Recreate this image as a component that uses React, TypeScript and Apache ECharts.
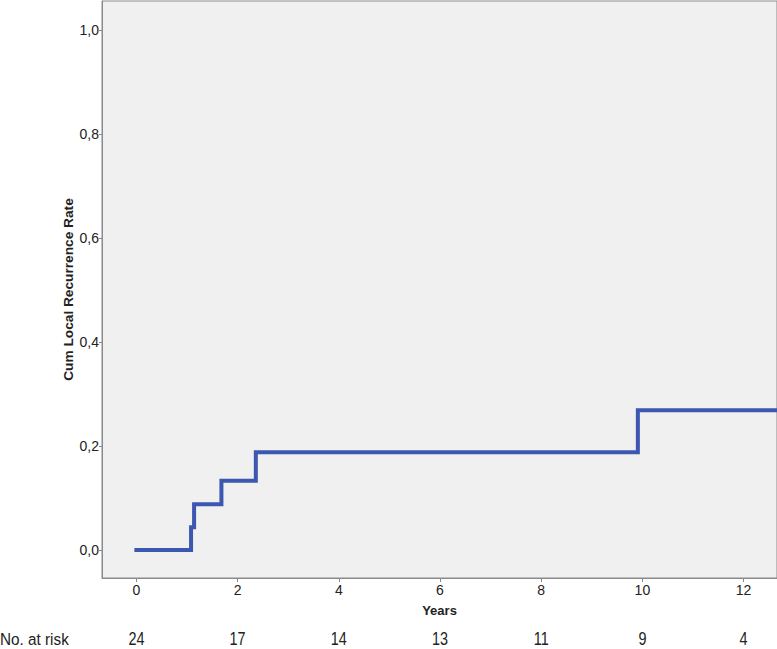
import React, { useEffect, useRef } from "react";
import * as echarts from "echarts";

const years = [0, 1.08, 1.14, 1.68, 2.36, 9.91, 12.66];
const cumRate = [0, 0.044, 0.088, 0.133, 0.188, 0.269, 0.269];
const yTicks = [0, 0.2, 0.4, 0.6, 0.8, 1.0];
const xTicks = [0, 2, 4, 6, 8, 10, 12];
const riskTimes = [0, 2, 4, 6, 8, 10, 12];
const riskCounts = [24, 17, 14, 13, 11, 9, 4];

const X_MIN = -0.68;
const X_MAX = 12.66;
const Y_MIN = -0.0538;
const Y_MAX = 1.0558;

export default function App() {
  const ref = useRef<HTMLDivElement>(null);
  useEffect(() => {
    if (!ref.current) return;
    const chart = echarts.init(ref.current, null, { renderer: "svg" });
    const axisFont = { fontFamily: "Liberation Sans, Arial, sans-serif", fontSize: 14, color: "#222" };
    chart.setOption({
      animation: false,
      backgroundColor: "#ffffff",
      grid: [
        { left: 102, right: 0, top: 1, bottom: 71, show: true, backgroundColor: "#f0f0f0", borderColor: "#8a8a8a", borderWidth: 1, containLabel: false },
      ],
      xAxis: [
        {
          type: "value", gridIndex: 0, min: X_MIN, max: X_MAX,
          name: "Years", nameLocation: "middle", nameGap: 26, nameMoveOverlap: false,
          nameTextStyle: { fontFamily: "Liberation Sans, Arial, sans-serif", fontWeight: "bold", fontSize: 13, color: "#222" },
          axisLine: { show: true, onZero: false, lineStyle: { color: "#8a8a8a" } },
          axisTick: { show: true, length: 4, customValues: xTicks, lineStyle: { color: "#8a8a8a" } },
          axisLabel: { ...axisFont, margin: 5, customValues: xTicks, formatter: (v: number) => String(v) },
          splitLine: { show: false },
        },
      ],
      yAxis: [
        {
          type: "value", gridIndex: 0, min: Y_MIN, max: Y_MAX,
          name: "Cum Local Recurrence Rate", nameLocation: "middle", nameGap: 27, nameMoveOverlap: false,
          nameTextStyle: { fontFamily: "Liberation Sans, Arial, sans-serif", fontWeight: "bold", fontSize: 13.7, color: "#222" },
          axisLine: { show: true, onZero: false, lineStyle: { color: "#8a8a8a" } },
          axisTick: { show: true, length: 3, customValues: yTicks, lineStyle: { color: "#8a8a8a" } },
          axisLabel: { ...axisFont, margin: 3, customValues: yTicks, formatter: (v: number) => v.toFixed(1).replace(".", ",") },
          splitLine: { show: false },
        },
      ],
      series: [
        {
          type: "line", step: "end",
          data: years.map((x, i) => [x, cumRate[i]]),
          showSymbol: false, symbol: "none",
          lineStyle: { color: "#3b57b0", width: 4, cap: "square", join: "miter" },
          clip: true,
        },
      ],
    });

    const riskY = 638.5;
    const graphics: any[] = [
      {
        type: "text", x: 0, y: riskY, scaleX: 0.9,
        style: { text: "No. at risk", font: "17px 'Liberation Sans', Arial, sans-serif", fill: "#222", textVerticalAlign: "middle", textAlign: "left" },
      },
    ];
    riskTimes.forEach((t, i) => {
      const px = chart.convertToPixel({ xAxisIndex: 0 }, t) as number;
      graphics.push({
        type: "text", x: px, y: riskY, scaleX: 0.8,
        style: { text: String(riskCounts[i]), font: "18px 'Liberation Sans', Arial, sans-serif", fill: "#222", textVerticalAlign: "middle", textAlign: "center" },
      });
    });
    chart.setOption({ graphic: graphics });
    return () => chart.dispose();
  }, []);
  return <div ref={ref} style={{ width: 777, height: 649, position: "absolute", left: 0, top: 0 }} />;
}
